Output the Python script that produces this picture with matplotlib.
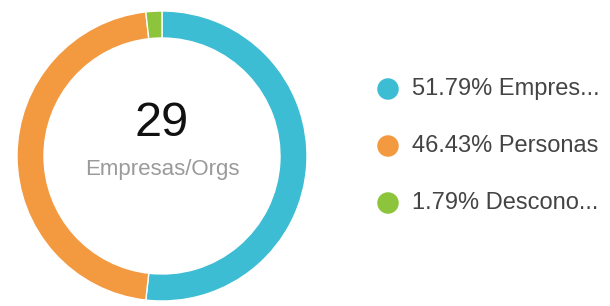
import matplotlib.pyplot as plt

plt.rcParams["font.family"] = ["Liberation Sans", "DejaVu Sans"]

labels = ["Empres...", "Personas", "Descono..."]
counts = [29, 26, 1]
colors = ["#3cbdd3", "#f3993f", "#8cc43c"]
center_value = "29"
center_label = "Empresas/Orgs"

W, H = 610, 306
fig = plt.figure(figsize=(W / 100, H / 100), dpi=100)
ax = fig.add_axes([0, 0, 1, 1])

cx, cy, r = 162, 150, 145
ax.pie(counts, colors=colors, startangle=90, counterclock=False,
       center=(cx, cy), radius=r, frame=True,
       wedgeprops=dict(width=27, edgecolor="white", linewidth=1))
ax.set_xlim(0, W)
ax.set_ylim(0, H)
ax.set_aspect("equal")
ax.axis("off")

ax.text(cx, H - 124, center_value, fontsize=35, ha="center", va="center", color="#111111")
ax.text(cx, H - 170, center_label, fontsize=16, ha="center", va="center", color="#9a9a9a")

total = sum(counts)
ys = [H - 89, H - 146, H - 203]
for lab, c, col, y in zip(labels, counts, colors, ys):
    ax.scatter([388], [y], s=240, color=col, edgecolors="none")
    ax.text(412, y, f"{100 * c / total:.2f}% {lab}", fontsize=17,
            ha="left", va="center", color="#444444")

fig.savefig("out.png", dpi=100)
